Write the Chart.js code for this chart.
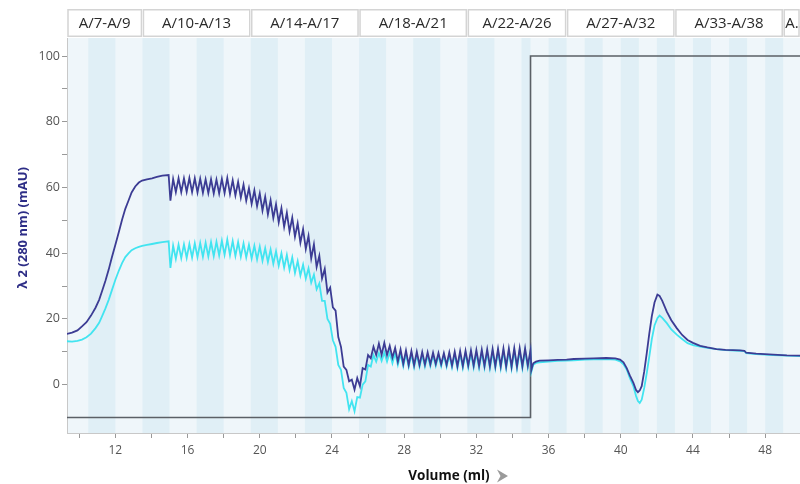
<!DOCTYPE html>
<html><head><meta charset="utf-8">
<script src="https://cdn.jsdelivr.net/npm/chart.js@4/dist/chart.umd.min.js"></script>
<style>html,body{margin:0;padding:0;background:#fff}canvas{display:block}</style>
</head><body>
<canvas id="c" width="800" height="484"></canvas>
<script>
// ---- data (ml / mAU) ----
const preVolume=[9.3,9.6,9.9,10.15,10.4,10.65,10.9,11.1,11.26,11.45,11.63,11.8,12.0,12.2,12.37,12.55,12.74,12.9,13.1,13.3,13.48,13.75,14.03,14.3,14.6,14.95];
const preDark=[15.4,15.8,16.5,17.7,19.0,21.0,23.4,25.8,28.4,31.6,35.0,38.6,42.6,46.6,50.2,53.5,56.2,58.5,60.3,61.5,62.1,62.5,62.8,63.2,63.6,63.8];
const preCyan=[13.2,13.1,13.3,13.7,14.4,15.5,17.2,18.8,20.8,23.2,25.8,28.6,31.9,34.8,37.0,38.8,40.0,40.9,41.5,41.9,42.2,42.5,42.8,43.1,43.4,43.6];

const oscVolume=[15.05,15.2,15.35,15.5,15.65,15.8,15.95,16.1,16.25,16.4,16.55,16.7,16.85,17,17.15,17.3,17.45,17.6,17.75,17.9,18.05,18.2,18.35,18.5,18.65,18.8,18.95,19.1,19.25,19.4,19.55,19.7,19.85,20,20.15,20.3,20.45,20.6,20.75,20.9,21.05,21.2,21.35,21.5,21.65,21.8,21.95,22.1,22.25,22.4,22.55,22.7,22.85,23,23.15,23.3,23.45,23.6,23.75,23.9,24.05,24.2,24.35,24.5,24.65,24.8,24.95,25.1,25.25,25.4,25.55,25.7,25.85,26,26.15,26.3,26.45,26.6,26.75,26.9,27.05,27.2,27.35,27.5,27.65,27.8,27.95,28.1,28.25,28.4,28.55,28.7,28.85,29,29.15,29.3,29.45,29.6,29.75,29.9,30.05,30.2,30.35,30.5,30.65,30.8,30.95,31.1,31.25,31.4,31.55,31.7,31.85,32,32.15,32.3,32.45,32.6,32.75,32.9,33.05,33.2,33.35,33.5,33.65,33.8,33.95,34.1,34.25,34.4,34.55,34.7,34.85,35];
const oscDark=[56.0,62.6,58.6,62.8,58.6,62.8,58.7,62.9,58.6,62.8,
58.5,62.7,58.4,62.5,58.3,62.5,58.2,62.4,58.2,62.6,
58.3,62.9,58.0,62.2,57.6,61.7,56.9,60.9,56.0,59.8,
55.0,59.1,54.3,58.2,53.0,57.2,51.8,56.1,50.7,54.9,
49.4,53.7,48.0,52.3,46.6,50.8,45.0,49.1,43.2,47.3,
41.3,45.3,38.4,42.7,35.8,39.2,32.3,35.2,28.0,29.5,
23.5,22.5,14.5,11.5,5.5,4.5,1.0,1.5,-1.5,2.0,
-0.5,5.0,4.6,9.0,8.0,11.5,9.0,12.5,9.1,12.7,
9.0,11.8,8.2,11.2,7.0,10.7,6.3,10.4,6.0,10.2,
5.9,10.0,6.0,9.9,6.1,9.8,6.2,9.7,6.3,9.6,
6.2,9.6,6.0,9.8,5.8,10.0,5.6,10.2,5.7,10.3,
5.8,10.4,5.8,10.5,5.7,10.6,5.7,10.7,5.6,10.8,
5.6,10.9,5.6,11.0,5.5,11.0,5.5,11.1,5.5,11.1,
5.6,11.0,5.8,10.5];
const oscCyan=[35.5,42.3,38.3,42.6,38.5,42.7,38.6,42.8,38.7,43.0,
38.8,43.1,38.9,43.2,39.0,43.4,39.1,43.5,39.3,43.8,
39.5,44.2,39.4,43.7,39.2,43.4,38.9,43.0,38.7,42.6,
38.4,42.3,38.1,42.0,37.7,41.5,37.3,41.1,36.8,40.6,
36.2,40.0,35.6,39.5,34.9,38.7,34.0,37.6,33.2,36.5,
32.3,35.4,31.0,33.5,29.0,30.8,25.5,25.5,20.0,18.5,
13.5,11.5,6.0,4.5,-1.0,-2.5,-7.5,-5.0,-8.1,-3.8,
-4.0,0.0,1.0,6.0,5.5,9.0,7.0,9.6,7.2,9.8,
7.0,9.8,6.5,9.6,6.0,9.4,5.6,9.4,5.4,9.3,
5.3,9.2,5.4,9.1,5.5,9.0,5.6,8.9,5.7,8.9,
5.6,8.9,5.4,9.0,5.2,9.2,5.0,9.4,5.1,9.5,
5.2,9.6,5.2,9.7,5.1,9.8,5.1,9.9,5.0,10.0,
5.0,10.1,5.0,10.2,4.9,10.2,4.9,10.3,4.9,10.3,
5.0,10.2,5.2,9.8];

const postVolume=[35.05,35.15,35.3,35.5,36,36.5,37,37.4,38,38.5,39.2,39.7,39.96,40.15,40.33,40.5,40.7,40.85,40.95,41.05,41.16,41.3,41.44,41.58,41.72,41.87,42.03,42.15,42.3,42.55,42.8,43.1,43.4,43.7,44.0,44.4,44.8,45.3,45.8,46.6,46.85,46.95,47.5,48.45,49.2,49.95];
const postDark=[4.5,6.5,7.0,7.3,7.4,7.5,7.6,7.8,7.9,8.0,8.1,8.0,7.6,6.8,5.0,2.8,0.5,-1.7,-2.3,-1.8,-0.5,4.0,9.6,15.5,20.8,25.0,27.4,27.0,25.5,22.2,19.6,17.2,15.1,13.6,12.7,11.8,11.3,10.8,10.6,10.4,10.3,9.7,9.4,9.1,8.9,8.8];
const postCyan=[4.0,6.0,6.6,6.8,7.0,7.2,7.3,7.4,7.6,7.7,7.8,7.6,7.1,6.2,4.6,2.0,-0.5,-3.5,-5.0,-5.6,-4.6,-1.0,3.5,8.5,13.8,18.0,20.2,21.0,20.3,18.7,16.8,15.2,13.9,12.6,12.0,11.6,11.2,10.8,10.5,10.3,10.2,9.6,9.3,9.0,8.8,8.7];

const concVolume=[9.3,35.0,35.0,49.95];
const concValue=[-10,-10,100,100];

const fractionEdges=[9,10.5,12,13.5,15,16.5,18,19.5,21,22.5,24,25.5,27,28.5,30,31.5,33,34.5,35,36,37,38,39,40,41,42,43,44,45,46,47,48,49,50];
const fractionNumbers=[7,8,9,10,11,12,13,14,15,16,17,18,19,20,21,22,23,24,25,26,27,28,29,30,31,32,33,34,35,36,37,38,39];
const headerEdges=[9,13.5,19.5,25.5,31.5,37,43,49,50];
const headerLabels=['A/7-A/9','A/10-A/13','A/14-A/17','A/18-A/21','A/22-A/26','A/27-A/32','A/33-A/38','A..'];

const yTitle='λ 2 (280 nm) (mAU)';
const xTitle='Volume (ml)';

// ---- build ----
const volume=preVolume.concat(oscVolume,postVolume);
const uvDark=preDark.concat(oscDark,postDark);
const uvCyan=preCyan.concat(oscCyan,postCyan);
const pts=(xs,ys)=>xs.map((v,i)=>({x:v,y:ys[i]}));

const FONT='"Open Sans", "Noto Sans", sans-serif';

const bgPlugin={id:'bg',beforeDraw(chart){
  const {ctx,chartArea:a,scales:{x}}=chart;
  ctx.save();
  ctx.beginPath();ctx.rect(a.left,a.top,a.right-a.left,a.bottom-a.top);ctx.clip();
  ctx.fillStyle='#eff6fa';ctx.fillRect(a.left,a.top,a.right-a.left,a.bottom-a.top);
  ctx.fillStyle='#e0eff6';
  for(let i=0;i<fractionNumbers.length;i++){
    if(fractionNumbers[i]%2===0){
      const x1=x.getPixelForValue(fractionEdges[i]),x2=x.getPixelForValue(fractionEdges[i+1]);
      ctx.fillRect(x1,a.top,x2-x1,a.bottom-a.top);
    }
  }
  ctx.restore();
}};

const decoPlugin={id:'deco',afterDraw(chart){
  const {ctx,chartArea:a,scales:{x}}=chart;
  ctx.save();
  for(let i=0;i<headerLabels.length;i++){
    const x1=Math.max(a.left,x.getPixelForValue(headerEdges[i]));
    const x2=Math.min(a.right,x.getPixelForValue(headerEdges[i+1]));
    ctx.fillStyle='#ffffff';
    ctx.fillRect(x1,9,x2-x1,28);
    ctx.strokeStyle='#d4d4d4';ctx.lineWidth=1.5;
    ctx.strokeRect(x1+1,9.75,x2-x1-2,26.5);
    ctx.fillStyle='#2a2a2a';ctx.font='15px '+FONT;ctx.textBaseline='middle';
    if(x2-x1>40){ctx.textAlign='center';ctx.fillText(headerLabels[i],(x1+x2)/2,23.5);}
    else{ctx.textAlign='left';ctx.fillText(headerLabels[i],x1+2,23.5);}
  }
  ctx.save();
  ctx.translate(23,228);ctx.rotate(-Math.PI/2);
  ctx.font='bold 13px '+FONT;ctx.fillStyle='#2d2d86';ctx.textAlign='center';ctx.textBaseline='middle';
  ctx.fillText(yTitle,0,0);
  ctx.restore();
  ctx.font='bold 13.5px '+FONT;ctx.fillStyle='#111111';ctx.textAlign='center';ctx.textBaseline='middle';
  ctx.fillText(xTitle,449,476);
  ctx.fillStyle='#9a9a9a';
  ctx.beginPath();ctx.moveTo(497,469.5);ctx.lineTo(508,476);ctx.lineTo(497,482.5);ctx.lineTo(500.5,476);ctx.closePath();ctx.fill();
  ctx.restore();
}};

new Chart(document.getElementById('c'),{
  type:'line',
  data:{datasets:[
    {label:'UV 1',data:pts(volume,uvDark),borderColor:'#3c3c94',borderWidth:1.8,pointRadius:0,tension:0},
    {label:'UV 2',data:pts(volume,uvCyan),borderColor:'#42e4f0',borderWidth:1.8,pointRadius:0,tension:0},
    {label:'Conc',data:pts(concVolume,concValue),borderColor:'#5b6066',borderWidth:1.6,pointRadius:0,tension:0}
  ]},
  options:{
    responsive:false,animation:false,
    layout:{padding:{top:38,left:0,right:0,bottom:0}},
    plugins:{legend:{display:false},tooltip:{enabled:false}},
    font:{family:FONT},
    scales:{
      x:{type:'linear',min:9.32,max:49.93,
        afterFit(s){s.height=51;},
        ticks:{stepSize:2,autoSkip:false,maxRotation:0,includeBounds:false,padding:5,color:'#555',font:{size:12,family:FONT},
          callback:v=>Math.abs(v%4)<1e-6?String(v):''},
        grid:{drawOnChartArea:false,drawTicks:true,tickLength:5,color:'#999'},
        border:{display:true,color:'#c8c8c8'}},
      y:{type:'linear',min:-14.73,max:105.5,
        afterFit(s){s.width=67;},
        ticks:{stepSize:10,autoSkip:false,includeBounds:false,padding:2,color:'#555',font:{size:12.5,family:FONT},
          callback:v=>(v>=0&&Math.abs(v%20)<1e-6)?String(v):''},
        grid:{drawOnChartArea:false,drawTicks:true,tickLength:5,color:c=>(c.tick&&c.tick.value<0)?'rgba(0,0,0,0)':'#999'},
        border:{display:true,color:'#c8c8c8'}}
    }
  },
  plugins:[bgPlugin,decoPlugin]
});
</script>
</body></html>
